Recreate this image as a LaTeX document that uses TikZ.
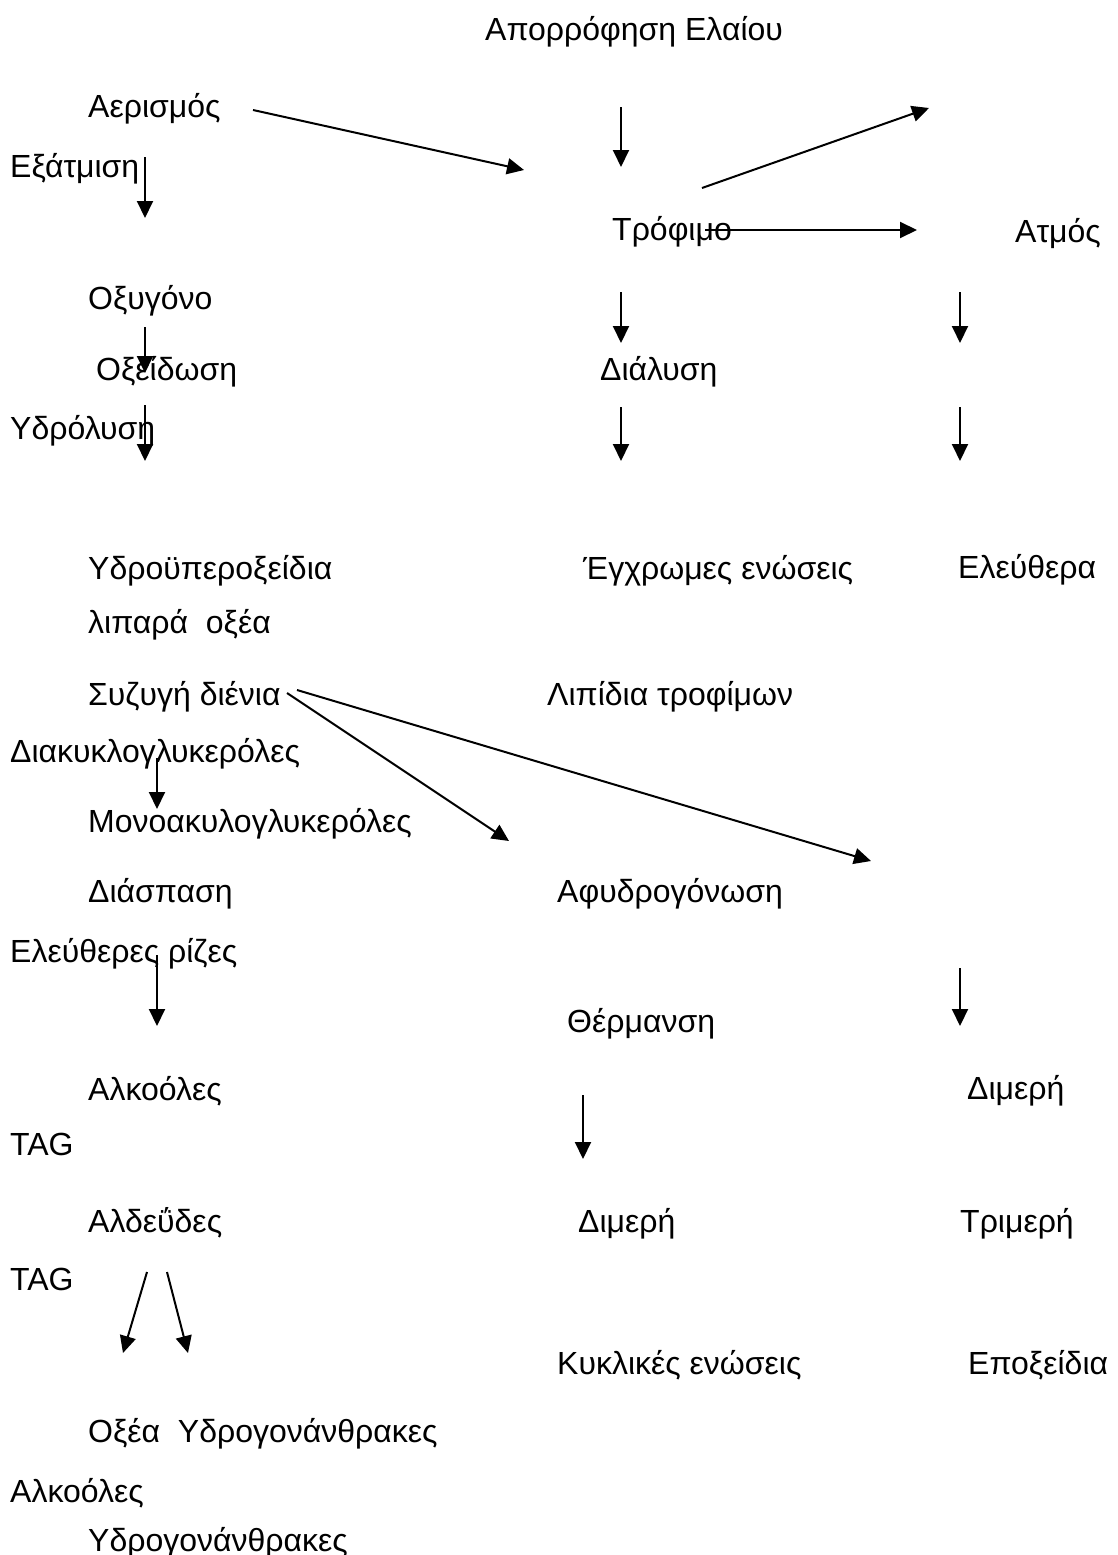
\documentclass[tikz,border=0pt]{standalone}
\usepackage{fontspec}
\setmainfont{Liberation Sans}
\usetikzlibrary{arrows.meta}
\begin{document}
\begin{tikzpicture}[x=1pt,y=-1pt,
  lbl/.style={anchor=base west,inner sep=0pt,font=\fontsize{32}{38}\selectfont},
  arr/.style={line width=2pt,-{Triangle[length=17pt,width=16pt]}}]
\useasboundingbox (0,0) rectangle (1118,1555);
\node[lbl] (apo) at (485,41) {Απορρόφηση Ελαίου};
\node[lbl] (aer) at (88,117) {Αερισμός};
\node[lbl] (exa) at (10,177) {Εξάτμιση};
\node[lbl] (tro) at (612,240) {Τρόφιμο};
\node[lbl] (atm) at (1015,242) {Ατμός};
\node[lbl] (oxy) at (88,309) {Οξυγόνο};
\node[lbl] (oxe) at (96,380) {Οξείδωση};
\node[lbl] (dia) at (600,380) {Διάλυση};
\node[lbl] (ydr) at (10,439) {Υδρόλυση};
\node[lbl] (yper) at (88,579) {Υδροϋπεροξείδια};
\node[lbl] (egx) at (583,579) {Έγχρωμες ενώσεις};
\node[lbl] (ele) at (958,578) {Ελεύθερα};
\node[lbl] (lip) at (88,633) {λιπαρά\ \ οξέα};
\node[lbl] (syz) at (88,705) {Συζυγή διένια};
\node[lbl] (lipt) at (547,705) {Λιπίδια τροφίμων};
\node[lbl] (diak) at (10,762) {Διακυκλογλυκερόλες};
\node[lbl] (mono) at (88,832) {Μονοακυλογλυκερόλες};
\node[lbl] (dias) at (88,902) {Διάσπαση};
\node[lbl] (afy) at (557,902) {Αφυδρογόνωση};
\node[lbl] (riz) at (10,962) {Ελεύθερες ρίζες};
\node[lbl] (ther) at (567,1032) {Θέρμανση};
\node[lbl] (alk) at (88,1100) {Αλκοόλες};
\node[lbl] (dim1) at (967,1099) {Διμερή};
\node[lbl] (tag1) at (10,1155) {TAG};
\node[lbl] (ald) at (88,1232) {Αλδεΰδες};
\node[lbl] (dim2) at (578,1232) {Διμερή};
\node[lbl] (trim) at (960,1232) {Τριμερή};
\node[lbl] (tag2) at (10,1290) {TAG};
\node[lbl] (kyk) at (557,1374) {Κυκλικές ενώσεις};
\node[lbl] (epo) at (968,1374) {Εποξείδια};
\node[lbl] (oxea) at (88,1442) {Οξέα\ \ Υδρογονάνθρακες};
\node[lbl] (alk2) at (10,1502) {Αλκοόλες};
\node[lbl] (ydro) at (88,1551) {Υδρογονάνθρακες};
% arrow end points
\coordinate (a1s) at (145,157); \coordinate (a1e) at (145,218);
\coordinate (a2s) at (145,327); \coordinate (a2e) at (145,373);
\coordinate (a3s) at (145,405); \coordinate (a3e) at (145,461);
\coordinate (b1s) at (253,110); \coordinate (b1e) at (524,170);
\coordinate (c1s) at (621,107); \coordinate (c1e) at (621,167);
\coordinate (d1s) at (702,188); \coordinate (d1e) at (929,108);
\coordinate (d2s) at (705,230); \coordinate (d2e) at (917,230);
\coordinate (c2s) at (621,292); \coordinate (c2e) at (621,343);
\coordinate (c3s) at (621,407); \coordinate (c3e) at (621,461);
\coordinate (e1s) at (960,292); \coordinate (e1e) at (960,343);
\coordinate (e2s) at (960,407); \coordinate (e2e) at (960,461);
\coordinate (f1s) at (287,693); \coordinate (f1e) at (509,841);
\coordinate (f2s) at (297,690); \coordinate (f2e) at (871,861);
\coordinate (g1s) at (157,758); \coordinate (g1e) at (157,809);
\coordinate (g2s) at (157,955); \coordinate (g2e) at (157,1026);
\coordinate (h1s) at (960,968); \coordinate (h1e) at (960,1026);
\coordinate (h2s) at (583,1095); \coordinate (h2e) at (583,1159);
\coordinate (k1s) at (147,1272); \coordinate (k1e) at (123,1353);
\coordinate (k2s) at (167,1272); \coordinate (k2e) at (188,1353);
\foreach \p in {a1,a2,a3,b1,c1,d1,d2,c2,c3,e1,e2,f1,f2,g1,g2,h1,h2,k1,k2}
  \draw[arr] (\p s) -- (\p e);
\end{tikzpicture}
\end{document}
